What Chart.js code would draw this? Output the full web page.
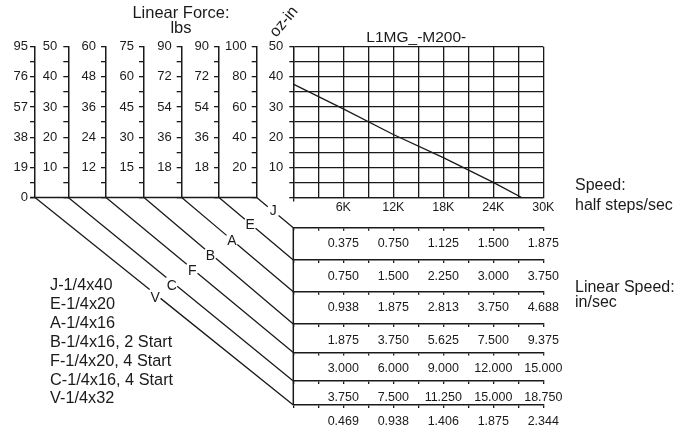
<!DOCTYPE html>
<html><head><meta charset="utf-8">
<script src="https://cdn.jsdelivr.net/npm/chart.js@4"></script>
<style>html,body{margin:0;padding:0;background:#fff}canvas{display:block}</style>
</head><body>
<canvas id="c" width="697" height="430"></canvas>
<script>
// ---- data ----
const speedX = [0, 6000, 12000, 18000, 24000, 27400];
const torqueY = [37.6, 29.4, 20.9, 13.2, 5.0, 0];
const speedTickLabels = ['', '6K', '12K', '18K', '24K', '30K'];
const torqueTickLabels = ['', '10', '20', '30', '40', '50'];
const leadCodes = ['J', 'E', 'A', 'B', 'F', 'C', 'V'];
const forceJ = ['', '20', '40', '60', '80', '100'];
const forceE = ['', '18', '36', '54', '72', '90'];
const forceA = ['', '18', '36', '54', '72', '90'];
const forceB = ['', '15', '30', '45', '60', '75'];
const forceF = ['', '12', '24', '36', '48', '60'];
const forceC = ['', '10', '20', '30', '40', '50'];
const forceV = ['0', '19', '38', '57', '76', '95'];
const linJ = ['', '0.375', '0.750', '1.125', '1.500', '1.875'];
const linE = ['', '0.750', '1.500', '2.250', '3.000', '3.750'];
const linA = ['', '0.938', '1.875', '2.813', '3.750', '4.688'];
const linB = ['', '1.875', '3.750', '5.625', '7.500', '9.375'];
const linF = ['', '3.000', '6.000', '9.000', '12.000', '15.000'];
const linC = ['', '3.750', '7.500', '11.250', '15.000', '18.750'];
const linV = ['', '0.469', '0.938', '1.406', '1.875', '2.344'];
const legendLabels = ['J-1/4x40', 'E-1/4x20', 'A-1/4x16', 'B-1/4x16, 2 Start', 'F-1/4x20, 4 Start', 'C-1/4x16, 4 Start', 'V-1/4x32'];

// ---- style / layout ----
const INK = '#1a1a1a';
const SANS = "'Liberation Sans',Arial,sans-serif";
const LEFTFONT = {family: SANS, size: 13, lineHeight: 1};
const BOTFONT = {family: SANS, size: 12.5, lineHeight: 1};
const forceSets = {J: forceJ, E: forceE, A: forceA, B: forceB, F: forceF, C: forceC, V: forceV};
const linSets = {J: linJ, E: linE, A: linA, B: linB, F: linF, C: linC, V: linV};
const leftWidth = {J: 37.7, E: 37.3, A: 37.7, B: 38, F: 37.7, C: 33.3, V: 35};
const leftPad = {J: 5, E: 5, A: 5, B: 5, F: 5, C: 6, V: 2};
const rowHeight = {J: 32.3, E: 31.7, A: 32.3, B: 28.5, F: 28.5, C: 24, V: 25};
const labelT = {J: 0.45, E: 0.42, A: 0.45, B: 0.445, F: 0.46, C: 0.46, V: 0.465};
const labelDy = {J: 0.5, E: 1.4, A: 1.7, B: 2.6, F: 2.3, C: 4.2, V: 4.4};

const everyOther = labels => (v, i) => (i % 2 === 0 ? labels[i / 2] : '');

const scales = {
  x: {
    type: 'linear', axis: 'x', position: 'bottom', weight: 0, min: 0, max: 30000,
    grid: {color: INK, lineWidth: 1.3, tickLength: 4,
      tickColor: c => (c.index === 0 ? INK : 'rgba(0,0,0,0)')},
    border: {display: true, color: INK, width: 1.3},
    ticks: {stepSize: 3000, autoSkip: false, maxRotation: 0, minRotation: 0, padding: 0,
      color: INK, font: BOTFONT, callback: everyOther(speedTickLabels)},
    afterFit: s => { s.height = 30.2; }
  },
  y: {
    type: 'linear', axis: 'y', position: 'left', weight: 0, min: 0, max: 50,
    grid: {color: INK, lineWidth: 1.3, tickLength: 4},
    border: {display: true, color: INK, width: 1.3},
    ticks: {count: 11, autoSkip: false, padding: 6, color: INK, font: LEFTFONT,
      callback: everyOther(torqueTickLabels)},
    afterFit: s => { s.width = 36.6; }
  }
};
leadCodes.forEach((code, k) => {
  const f = forceSets[code];
  scales['y' + code] = {
    type: 'linear', axis: 'y', position: 'left', weight: k + 1,
    min: 0, max: parseFloat(f[f.length - 1]),
    grid: {drawOnChartArea: false, color: INK, lineWidth: 1.3, tickLength: 5},
    border: {display: true, color: INK, width: 1.5},
    ticks: {count: 11, autoSkip: false, padding: leftPad[code], color: INK, font: LEFTFONT,
      callback: everyOther(f)},
    afterFit: s => { s.width = leftWidth[code]; }
  };
  scales['x' + code] = {
    type: 'linear', axis: 'x', position: 'bottom', weight: k + 1, min: 0, max: 30000,
    grid: {drawOnChartArea: false, color: INK, lineWidth: 1.3, tickLength: 3},
    border: {display: true, color: INK, width: 1.5},
    ticks: {stepSize: 3000, autoSkip: false, maxRotation: 0, minRotation: 0, padding: 7,
      color: INK, font: BOTFONT, callback: everyOther(linSets[code])},
    afterFit: s => { s.height = rowHeight[code]; }
  };
});

const decor = {
  id: 'decor',
  afterDraw(chart) {
    const ctx = chart.ctx, ca = chart.chartArea, sc = chart.scales;
    ctx.save();
    ctx.strokeStyle = INK; ctx.fillStyle = INK; ctx.lineWidth = 1.3;
    // baseline joining the force axes
    ctx.beginPath();
    ctx.moveTo(sc.yV.right - 5, ca.bottom); ctx.lineTo(sc.yJ.right, ca.bottom);
    ctx.stroke();
    // left edge of the speed table
    ctx.lineWidth = 1.5;
    ctx.beginPath();
    ctx.moveTo(ca.left, sc.xJ.top); ctx.lineTo(ca.left, sc.xV.top);
    ctx.stroke();
    // diagonals linking force axes to speed rows
    ctx.lineWidth = 1.3;
    ctx.font = '14px ' + SANS;
    ctx.textAlign = 'center'; ctx.textBaseline = 'middle';
    leadCodes.forEach(code => {
      const ys = sc['y' + code], xs = sc['x' + code];
      const x0 = ys.right, y0 = ca.bottom, x1 = xs.left, y1 = xs.top;
      const t = labelT[code], len = Math.hypot(x1 - x0, y1 - y0), g = 7 / len;
      ctx.beginPath();
      ctx.moveTo(x0, y0);
      ctx.lineTo(x0 + (x1 - x0) * (t - g), y0 + (y1 - y0) * (t - g));
      ctx.moveTo(x0 + (x1 - x0) * (t + g), y0 + (y1 - y0) * (t + g));
      ctx.lineTo(x1, y1);
      ctx.stroke();
      ctx.fillText(code, x0 + (x1 - x0) * t, y0 + (y1 - y0) * t + labelDy[code]);
    });
    // texts
    ctx.textBaseline = 'alphabetic';
    ctx.font = '16.5px ' + SANS;
    ctx.textAlign = 'center';
    ctx.fillText('Linear Force:', 181, 18.3);
    ctx.fillText('lbs', 181, 33.3);
    ctx.font = '15.5px ' + SANS;
    ctx.fillText('L1MG_-M200-', (ca.left + ca.right) / 2 - 2, 41.5);
    ctx.save();
    ctx.translate(284, 22); ctx.rotate(-50 * Math.PI / 180);
    ctx.font = '16px ' + SANS; ctx.textBaseline = 'middle';
    ctx.fillText('oz-in', 0, 0);
    ctx.restore();
    ctx.textAlign = 'left';
    ctx.font = '16px ' + SANS;
    ctx.fillText('Speed:', 575, 190);
    ctx.fillText('half steps/sec', 575, 210);
    ctx.fillText('Linear Speed:', 575, 292);
    ctx.fillText('in/sec', 575, 307);
    ctx.font = '16.3px ' + SANS;
    legendLabels.forEach((s, i) => ctx.fillText(s, 50, 290 + i * 18.9));
    ctx.restore();
  }
};

new Chart(document.getElementById('c'), {
  type: 'line',
  data: {
    datasets: [{
      data: speedX.map((x, i) => ({x, y: torqueY[i]})),
      borderColor: INK, borderWidth: 1.3, pointRadius: 0, tension: 0, fill: false,
      xAxisID: 'x', yAxisID: 'y'
    }]
  },
  options: {
    responsive: false, animation: false, devicePixelRatio: 1,
    layout: {padding: {left: 0, top: 46.7, right: 153.7, bottom: 0}},
    plugins: {legend: {display: false}, tooltip: {enabled: false}, title: {display: false}},
    scales
  },
  plugins: [decor]
});
</script>
</body></html>
